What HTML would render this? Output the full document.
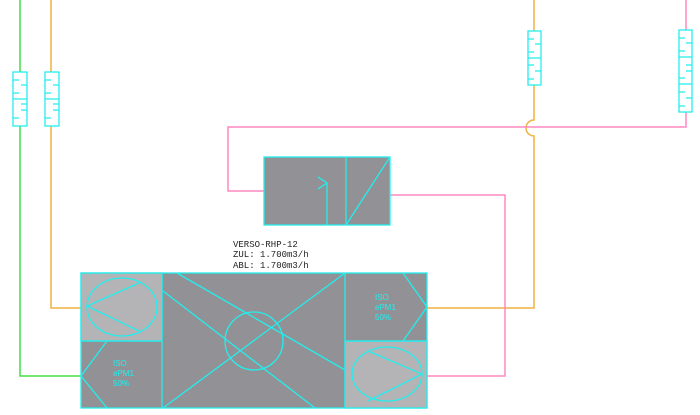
<!DOCTYPE html>
<html><head><style>body{margin:0;background:#fff}svg{display:block}</style></head><body>
<svg width="700" height="415" viewBox="0 0 700 415" xmlns="http://www.w3.org/2000/svg" font-family="Liberation Sans, sans-serif">
<g fill="none" stroke-width="1.5">
<path d="M20 0V376H81" stroke="#44dd44"/>
<path d="M51 0V308H81" stroke="#f0b040"/>
<path d="M534 0V120A8 8 0 0 0 534 136V308H427" stroke="#f0b040"/>
<path d="M686 0V127H228V191H264" stroke="#ff88c0"/>
<path d="M390 195H505V376H427" stroke="#ff88c0"/>
</g>
<g stroke="#22eeee" stroke-width="1.3" fill="#fff">
<rect x="13" y="72" width="14" height="54"/><rect x="45" y="72" width="14" height="54"/>
<rect x="528" y="31" width="13" height="54"/><rect x="679" y="30" width="13" height="82"/>
</g>
<g stroke="#22eeee" stroke-width="1.2">
<path d="M13 99H27M13 80h6M21 85h6M13 93h6M21 110h6M13 113h0M13 118h6M21 104h6"/>
<path d="M45 99H59M45 80h6M53 85h6M45 93h6M53 110h6M45 118h6M53 104h6"/>
<path d="M528 58H541M528 39h6M535 44h6M528 52h6M535 71h6M528 79h6M528 65h6"/>
<path d="M679 57H692M679 84H692M679 38h6M686 43h6M679 51h6M686 65h6M679 78h6M679 92h6M686 98h6M679 106h6M686 71h6"/>
</g>
<g stroke="#22eeee" stroke-width="1.3">
<rect x="264" y="157" width="126" height="68" fill="#929296"/>
<path d="M346 157V225M346 225L390 157M327 225V183M318 177L327 183L318 189" fill="none"/>
<rect x="81" y="273" width="346" height="135" fill="#929296"/>
<rect x="81" y="273" width="81" height="68" fill="#b4b4b6"/>
<rect x="345" y="341" width="82" height="67" fill="#b4b4b6"/>
<path d="M162 273V408M345 273V408M81 341H162M345 341H427" fill="none"/>
<ellipse cx="122" cy="307" rx="35" ry="29" fill="none"/>
<path d="M139 283L87 306L139 331" fill="none"/>
<ellipse cx="387" cy="374" rx="35" ry="27" fill="none"/>
<path d="M368 351L422 374L368 401" fill="none"/>
<path d="M177 273L345 370M163 291L315 408M163 408L345 273M403 273L427 307L403 341M107 341L81 376L107 408" fill="none"/>
<circle cx="254" cy="341" r="29" fill="none"/>
</g>
<g fill="#22eeee" font-size="8">
<text x="375" y="300">ISO</text><text x="375" y="310">ePM1</text><text x="375" y="320">50%</text>
<text x="113" y="366">ISO</text><text x="113" y="376">ePM1</text><text x="113" y="386">50%</text>
</g>
<g fill="#222" font-size="9" font-family="Liberation Mono, DejaVu Sans Mono, monospace">
<text x="233" y="247">VERSO-RHP-12</text><text x="233" y="257">ZUL:  1.700m3/h</text><text x="233" y="268">ABL:  1.700m3/h</text>
</g>
</svg>
</body></html>
